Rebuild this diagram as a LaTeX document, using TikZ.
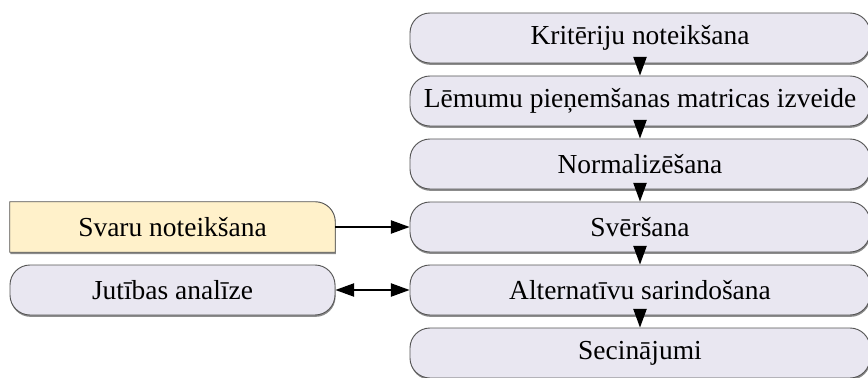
\documentclass[tikz,border=0pt]{standalone}
\usepackage{fontspec}
\setmainfont{Liberation Serif}
\usetikzlibrary{arrows.meta,shadows,backgrounds}
\definecolor{stepfill}{RGB}{233,231,241}
\definecolor{inputfill}{RGB}{255,241,202}
\definecolor{stepline}{RGB}{85,85,85}
\begin{document}
\begin{tikzpicture}[x=.75pt,y=-.75pt,>={Triangle[length=14pt,width=10pt]},line join=round,
	font=\fontsize{20.6}{24}\selectfont,
	boxshadow/.style={drop shadow={shadow xshift=.4pt,shadow yshift=-1.4pt,opacity=.45,fill=black}},
	stepbox/.style={draw=stepline,fill=stepfill,line width=.7pt,rounded corners=15pt,boxshadow,
		minimum width=345pt,minimum height=37.5pt,inner sep=0pt},
	sidebox/.style={minimum width=243.75pt,minimum height=37.5pt,inner sep=0pt},
	link/.style={line width=.9pt}]
	\clip (0,0) rectangle (868,378);
	\foreach \n/\y/\t in {krit/38/Kritēriju noteikšana,lemum/101/Lēmumu pieņemšanas matricas izveide,
		norm/164/Normalizēšana,svers/227/Svēršana,alter/290/Alternatīvu sarindošana,secin/353/Secinājumi}
	\node[stepbox] (\n) at (640,\y) {\t};
	\node[sidebox] (svaru) at (172.5,227) {Svaru noteikšana};
	\node[sidebox,stepbox,minimum width=243.75pt] (jutib) at (172.5,290) {Jutības analīze};
	\begin{scope}[on background layer]
		\draw[draw=stepline,fill=inputfill,line width=.7pt,boxshadow] (svaru.south west)--(svaru.north west)
			--([xshift=-15pt]svaru.north east) arc[start angle=90,end angle=0,radius=15pt]--(svaru.south east)--cycle;
	\end{scope}
	\foreach \a/\b in {krit/lemum,lemum/norm,norm/svers,svers/alter,alter/secin}\draw[link,->] (\a)--(\b);
	\draw[link,->] (svaru)--(svers);
	\draw[link,<->] (jutib)--(alter);
\end{tikzpicture}
\end{document}
